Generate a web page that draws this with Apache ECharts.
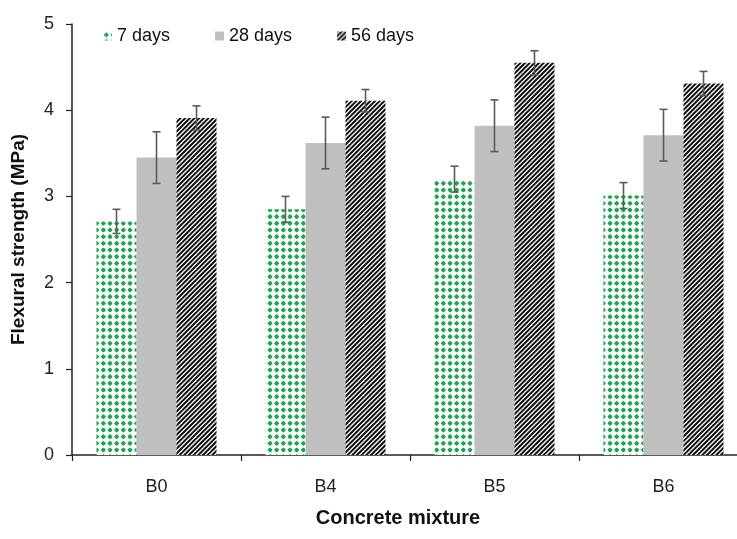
<!DOCTYPE html>
<html>
<head>
<meta charset="utf-8">
<script src="https://cdn.jsdelivr.net/npm/echarts@6/dist/echarts.min.js"></script>
<style>
html,body{margin:0;padding:0;background:#fff;}
#chart{width:737px;height:539px;}
</style>
</head>
<body>
<div id="chart"></div>
<script>
const categories = ['B0', 'B4', 'B5', 'B6'];
const seriesNames = ['7 days', '28 days', '56 days'];
const days7 = [2.71, 2.85, 3.20, 3.01];
const days28 = [3.45, 3.62, 3.82, 3.71];
const days56 = [3.91, 4.11, 4.55, 4.31];
const err7 = [0.14, 0.15, 0.15, 0.15];
const err28 = [0.30, 0.30, 0.30, 0.30];
const err56 = [0.14, 0.13, 0.14, 0.14];
const yTicks = [0, 1, 2, 3, 4, 5];

function dotsPattern() {
  const c = document.createElement('canvas');
  c.width = 20; c.height = 20;
  const g = c.getContext('2d');
  g.fillStyle = '#ffffff';
  g.fillRect(0, 0, 20, 20);
  g.fillStyle = '#1ea552';
  const s = 20 / 3;
  for (let i = 0; i < 3; i++) {
    for (let j = 0; j < 3; j++) {
      const cx = s / 2 + i * s, cy = s / 2 + j * s;
      g.beginPath();
      g.moveTo(cx, cy - 2.6);
      g.lineTo(cx + 2.6, cy);
      g.lineTo(cx, cy + 2.6);
      g.lineTo(cx - 2.6, cy);
      g.closePath();
      g.fill();
      g.beginPath();
      g.arc(cx, cy, 1.9, 0, Math.PI * 2);
      g.fill();
    }
  }
  return c;
}
function hatchPattern() {
  const n = 14;
  const c = document.createElement('canvas');
  c.width = n; c.height = n;
  const g = c.getContext('2d');
  g.fillStyle = '#ffffff';
  g.fillRect(0, 0, n, n);
  g.strokeStyle = '#111111';
  g.lineWidth = 2;
  const p = n / 3;
  for (let k = -2; k <= 9; k++) {
    const cc = k * p;
    g.beginPath();
    g.moveTo(cc + 2, -2);
    g.lineTo(cc - n - 2, n + 2);
    g.stroke();
  }
  return c;
}

const barW = 40;
const colors = [
  { image: dotsPattern(), repeat: 'repeat' },
  '#bfbfbf',
  { image: hatchPattern(), repeat: 'repeat' }
];
const values = [days7, days28, days56];
const errs = [err7, err28, err56];

function errSeries(idx) {
  const data = categories.map((c, i) => [i, values[idx][i], errs[idx][i]]);
  return {
    type: 'custom',
    z: 10,
    silent: true,
    data: data,
    encode: { x: 0, y: 1 },
    renderItem: function (params, api) {
      const xi = api.value(0), m = api.value(1), e = api.value(2);
      const off = (idx - 1) * barW;
      const hi = api.coord([xi, m + e]);
      const lo = api.coord([xi, m - e]);
      const x = hi[0] + off;
      const st = { stroke: '#5a5a5a', lineWidth: 1.6 };
      return {
        type: 'group',
        children: [
          { type: 'line', shape: { x1: x, y1: hi[1], x2: x, y2: lo[1] }, style: st },
          { type: 'line', shape: { x1: x - 4, y1: hi[1], x2: x + 4, y2: hi[1] }, style: st },
          { type: 'line', shape: { x1: x - 4, y1: lo[1], x2: x + 4, y2: lo[1] }, style: st }
        ]
      };
    }
  };
}

const chart = echarts.init(document.getElementById('chart'), null, { renderer: 'canvas' });
const font = 'Liberation Sans, Arial, sans-serif';
const option = {
  animation: false,
  backgroundColor: '#ffffff',
  grid: { left: 72, top: 24, height: 431, width: 676, outerBoundsMode: 'none', containLabel: false },
  legend: {
    data: seriesNames,
    left: 98,
    top: 22,
    itemWidth: 9,
    itemHeight: 9,
    itemGap: 45,
    icon: 'rect',
    textStyle: { fontFamily: font, fontSize: 18, color: '#111' }
  },
  xAxis: {
    type: 'category',
    data: categories,
    name: 'Concrete mixture',
    nameLocation: 'middle',
    nameGap: 53,
    nameTextStyle: { fontFamily: font, fontSize: 20, fontWeight: 'bold', color: '#111', padding: [0, 24, 0, 0] },
    axisLine: { lineStyle: { color: '#222', width: 1.5 } },
    axisTick: { show: true, length: 6, lineStyle: { color: '#222', width: 1.2 } },
    axisLabel: { fontFamily: font, fontSize: 18, color: '#222', margin: 23 }
  },
  yAxis: {
    type: 'value',
    min: yTicks[0],
    max: yTicks[yTicks.length - 1],
    interval: 1,
    name: 'Flexural strength (MPa)',
    nameLocation: 'middle',
    nameGap: 44,
    nameTextStyle: { fontFamily: font, fontSize: 19, fontWeight: 'bold', color: '#111' },
    axisLine: { show: true, lineStyle: { color: '#222', width: 1.5 } },
    axisTick: { show: true, length: 6, lineStyle: { color: '#222', width: 1.2 } },
    axisLabel: { fontFamily: font, fontSize: 18, color: '#222', margin: 18 },
    splitLine: { show: false }
  },
  series: [
    { name: seriesNames[0], type: 'bar', data: days7, barWidth: barW, barGap: '0%', itemStyle: { color: colors[0] } },
    { name: seriesNames[1], type: 'bar', data: days28, barWidth: barW, barGap: '0%', itemStyle: { color: colors[1] } },
    { name: seriesNames[2], type: 'bar', data: days56, barWidth: barW, barGap: '0%', itemStyle: { color: colors[2] } },
    errSeries(0), errSeries(1), errSeries(2)
  ]
};
chart.setOption(option);
</script>
</body>
</html>
